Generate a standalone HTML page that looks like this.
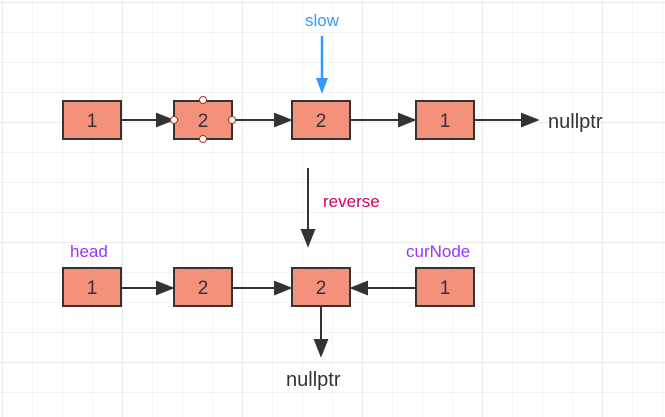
<!DOCTYPE html>
<html><head><style>
html,body{margin:0;padding:0;background:#fff;}
svg{display:block;}
text{font-family:"Liberation Sans",sans-serif;}
</style></head><body>
<svg width="665" height="417" viewBox="0 0 665 417" xmlns="http://www.w3.org/2000/svg">
<defs>
<pattern id="g" x="2" y="2" width="30" height="30" patternUnits="userSpaceOnUse">
<path d="M0 0H30M0 0V30" stroke="#ebebeb" stroke-width="1.2" fill="none"/>
</pattern>
<pattern id="G" x="2" y="2" width="120" height="120" patternUnits="userSpaceOnUse">
<path d="M0 0H120M0 0V120" stroke="#e0e0e0" stroke-width="1.3" fill="none"/>
</pattern>
<marker id="a" markerWidth="10" markerHeight="10" refX="9" refY="5" orient="auto" markerUnits="userSpaceOnUse"><path d="M0 0L16 5L0 10Z" fill="#333" transform="scale(0.6,1)"/></marker>
</defs>
<rect width="665" height="417" fill="url(#g)"/>
<rect width="665" height="417" fill="url(#G)"/>
<g stroke="#333" stroke-width="2" fill="none">
<line x1="121" y1="120" x2="172" y2="120"/><path d="M157 114L172 120L157 126Z" fill="#333"/>
<line x1="232" y1="120" x2="290" y2="120"/><path d="M275 114L290 120L275 126Z" fill="#333"/>
<line x1="350" y1="120" x2="414" y2="120"/><path d="M399 114L414 120L399 126Z" fill="#333"/>
<line x1="474" y1="120" x2="537" y2="120"/><path d="M522 114L537 120L522 126Z" fill="#333"/>
<line x1="121" y1="288" x2="172" y2="288"/><path d="M157 282L172 288L157 294Z" fill="#333"/>
<line x1="232" y1="288" x2="290" y2="288"/><path d="M275 282L290 288L275 294Z" fill="#333"/>
<line x1="416" y1="288" x2="352" y2="288"/><path d="M367 282L352 288L367 294Z" fill="#333"/>
<line x1="308" y1="168" x2="308" y2="245"/><path d="M302 230L308 245L314 230Z" fill="#333"/>
<line x1="321" y1="307" x2="321" y2="355"/><path d="M315 340L321 355L327 340Z" fill="#333"/>
</g>
<g stroke="#3399ff" stroke-width="2.5" fill="#3399ff">
<line x1="322" y1="36" x2="322" y2="85"/><path d="M316 78L322 94L328 78Z" stroke="none"/>
</g>
<g fill="#f4917a" stroke="#333" stroke-width="2">
<rect x="63" y="101" width="58" height="38"/>
<rect x="174" y="101" width="58" height="38"/>
<rect x="292" y="101" width="58" height="38"/>
<rect x="416" y="101" width="58" height="38"/>
<rect x="63" y="268" width="58" height="38"/>
<rect x="174" y="268" width="58" height="38"/>
<rect x="292" y="268" width="58" height="38"/>
<rect x="416" y="268" width="58" height="38"/>
</g>
<g fill="#fff" stroke="#a33" stroke-width="1">
<circle cx="203" cy="100" r="3.5"/><circle cx="203" cy="139" r="3.5"/>
<circle cx="174" cy="120" r="3.5"/><circle cx="232" cy="120" r="3.5"/>
</g>
<g font-size="19" fill="#333" text-anchor="middle">
<text x="92" y="127">1</text><text x="203" y="127">2</text><text x="321" y="127">2</text><text x="445" y="127">1</text>
<text x="92" y="294">1</text><text x="203" y="294">2</text><text x="321" y="294">2</text><text x="445" y="294">1</text>
</g>
<text x="548" y="128" font-size="20" fill="#333">nullptr</text>
<text x="286" y="386" font-size="20" fill="#333">nullptr</text>
<text x="322" y="26" font-size="17" fill="#3399ff" text-anchor="middle">slow</text>
<text x="323" y="207" font-size="17" fill="#cc0066">reverse</text>
<text x="70" y="257" font-size="17" fill="#9933ff">head</text>
<text x="406" y="257" font-size="17" fill="#9933ff">curNode</text>
</svg>
</body></html>
